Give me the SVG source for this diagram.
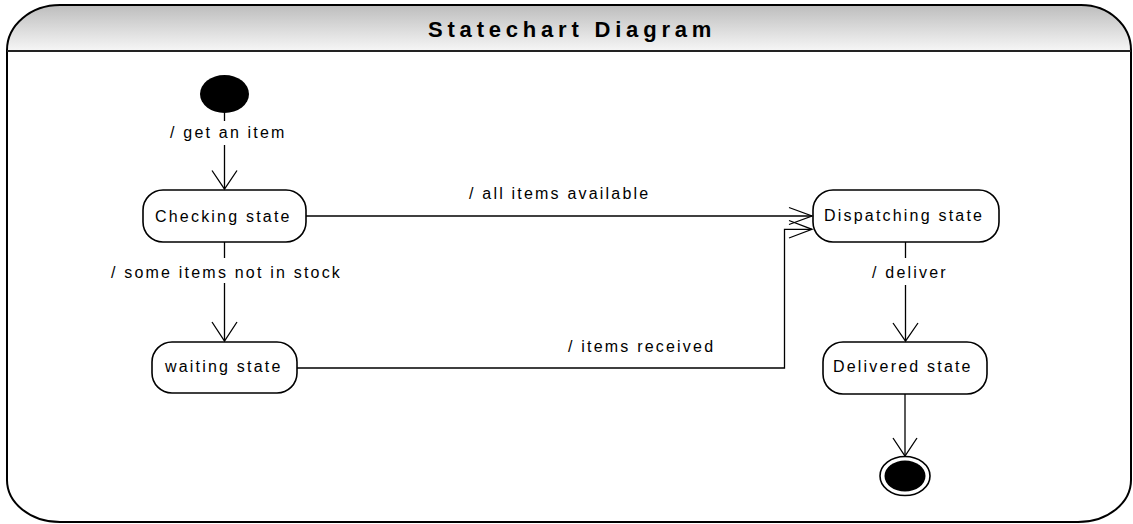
<svg xmlns="http://www.w3.org/2000/svg" width="1133" height="524" viewBox="0 0 1133 524">
<defs>
<linearGradient id="hdr" x1="0" y1="0" x2="0" y2="1">
<stop offset="0" stop-color="#bdbdbd"/>
<stop offset="1" stop-color="#f5f5f5"/>
</linearGradient>
</defs>
<style>
.frame{fill:none;stroke:#000;stroke-width:2}
.node{fill:#fff;stroke:#000;stroke-width:1.6}
.lbl{font-family:"Liberation Sans",Arial,sans-serif;font-size:16px;letter-spacing:2.2px;fill:#000}
.title{font-family:"Liberation Sans",Arial,sans-serif;font-size:22px;font-weight:bold;letter-spacing:4.8px;fill:#000}
.edge{fill:none;stroke:#000;stroke-width:1.3}
</style>
<g id="frame">
<path d="M7,50 A53,45 0 0 1 60,5 L1081,5 A50,45 0 0 1 1131,50 Z" fill="url(#hdr)" stroke="none"/>
<path class="frame" d="M7,50 A53,45 0 0 1 60,5 L1081,5 A50,45 0 0 1 1131,50 L1131,480 A53,42 0 0 1 1078,522 L60,522 A53,42 0 0 1 7,480 Z"/>
<line x1="7" y1="51" x2="1131" y2="51" stroke="#222" stroke-width="2"/>
<text class="title" x="428" y="37">Statechart Diagram</text>
</g>
<g id="initial">
<ellipse cx="224.5" cy="94" rx="24.5" ry="19" fill="#000"/>
</g>
<g id="checking">
<rect class="node" x="143" y="190" width="163" height="52" rx="20" ry="20"/>
<text class="lbl" x="155" y="222">Checking state</text>
</g>
<g id="waiting">
<rect class="node" x="152" y="342" width="145" height="51" rx="20" ry="20"/>
<text class="lbl" x="165" y="372">waiting state</text>
</g>
<g id="dispatching">
<rect class="node" x="813" y="190" width="186" height="52" rx="20" ry="20"/>
<text class="lbl" x="824" y="221">Dispatching state</text>
</g>
<g id="delivered">
<rect class="node" x="823" y="342" width="164" height="52" rx="20" ry="20"/>
<text class="lbl" x="833" y="372">Delivered state</text>
</g>
<g id="final">
<ellipse cx="905" cy="476" rx="25" ry="19.5" fill="#fff" stroke="#000" stroke-width="1.6"/>
<ellipse cx="905" cy="476" rx="20.5" ry="15.5" fill="#000"/>
</g>
<g id="connectors">
<path class="edge" d="M224.5,113 V121 M224.5,145 V189"/>
<path class="edge" d="M212,170.5 L224.5,189 L237,170.5"/>
<text class="lbl" x="170" y="138">/ get an item</text>
<path class="edge" d="M224.5,242 V258 M224.5,283 V341"/>
<path class="edge" d="M212,322 L224.5,341 L237,322"/>
<text class="lbl" x="111" y="278">/ some items not in stock</text>
<path class="edge" d="M306,216 H812"/>
<path class="edge" d="M789,207.5 L812,216 L789,224.5"/>
<text class="lbl" x="469" y="199">/ all items available</text>
<path class="edge" d="M297,368 H784.5 V229.3 H812"/>
<path class="edge" d="M789,220.5 L812,229.3 L789,238"/>
<text class="lbl" x="568" y="352">/ items received</text>
<path class="edge" d="M905.5,242 V258 M905.5,285 V341"/>
<path class="edge" d="M893,323 L905.5,341 L918,323"/>
<text class="lbl" x="872" y="278">/ deliver</text>
<path class="edge" d="M905,394 V456"/>
<path class="edge" d="M893,438 L905,456 L917,438"/>
</g>
</svg>
